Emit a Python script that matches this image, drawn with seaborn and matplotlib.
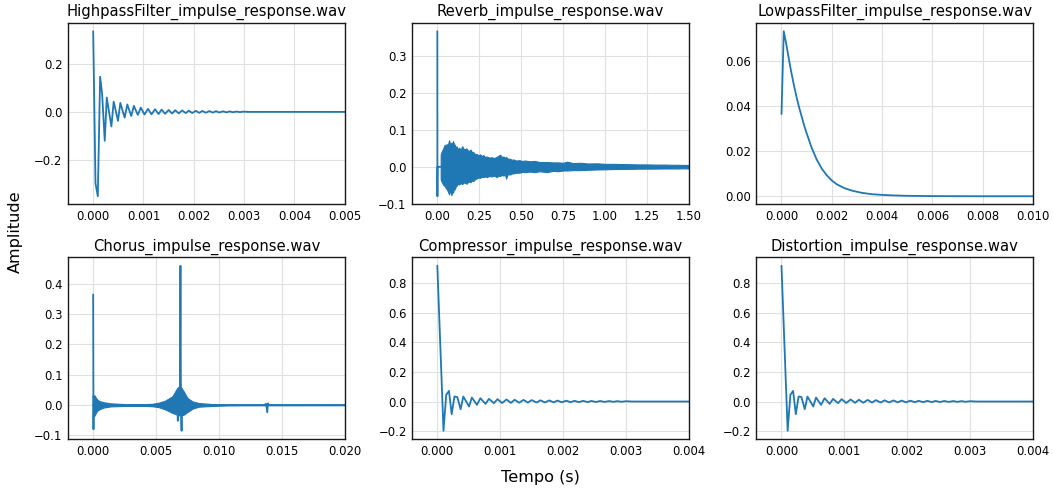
import matplotlib
matplotlib.use("Agg")
import matplotlib.pyplot as plt
from matplotlib.ticker import MultipleLocator
import seaborn as sns
import pandas as pd

# ---------------- data ----------------
titles = ["HighpassFilter_impulse_response.wav", "Reverb_impulse_response.wav",
          "LowpassFilter_impulse_response.wav", "Chorus_impulse_response.wav",
          "Compressor_impulse_response.wav", "Distortion_impulse_response.wav"]
x_max = [0.005, 1.5, 0.01, 0.02, 0.004, 0.004]
x_step = [0.001, 0.25, 0.002, 0.005, 0.001, 0.001]
y_step = [0.2, 0.1, 0.02, 0.1, 0.2, 0.2]

hp_t = [0, 0.000046, 0.000092, 0.000138, 0.000178, 0.00023, 0.00027, 0.000362, 0.000408,
        0.000493, 0.00054, 0.000625, 0.000678, 0.000757, 0.000809, 0.000888, 0.000947,
        0.00102, 0.00109, 0.00116, 0.00123, 0.0013, 0.00136, 0.00143, 0.0015, 0.00157,
        0.00163, 0.0017, 0.00177, 0.00184, 0.0019, 0.00197, 0.00204, 0.00211, 0.00217,
        0.00224, 0.00231, 0.00238, 0.00244, 0.00251, 0.00258, 0.00265, 0.00271, 0.00278,
        0.00285, 0.00292, 0.00298, 0.0031, 0.005]
hp_v = [0.3375, -0.299, -0.353, 0.147, 0.074, -0.121, 0.060, -0.061, 0.043,
        -0.0375, 0.0375, -0.024, 0.031, -0.017, 0.025, -0.0125, 0.018,
        -0.011, 0.0125, -0.010, 0.011, -0.009, 0.0095, -0.008, 0.008, -0.007,
        0.007, -0.006, 0.006, -0.005, 0.005, -0.0045, 0.0045, -0.004, 0.004,
        -0.0035, 0.0035, -0.003, 0.003, -0.0025, 0.0025, -0.002, 0.002, -0.0015,
        0.0015, -0.001, 0.001, 0, 0]

rev_spike_t = [0, 0.0005, 0.001, 0.02]
rev_spike_v = [0.3685, -0.08, 0.0, 0.0]
rev_t = [0.02, 0.025, 0.03, 0.037, 0.044, 0.05, 0.055, 0.062, 0.07, 0.077, 0.084, 0.089,
         0.094, 0.099, 0.104, 0.109, 0.114, 0.122, 0.13, 0.139, 0.148, 0.16, 0.174, 0.186,
         0.198, 0.206, 0.215, 0.225, 0.234, 0.245, 0.255, 0.265, 0.274, 0.284, 0.294, 0.31,
         0.324, 0.34, 0.354, 0.364, 0.374, 0.385, 0.395, 0.403, 0.41, 0.42, 0.434, 0.444,
         0.454, 0.47, 0.49, 0.505, 0.524, 0.55, 0.58, 0.61, 0.654, 0.69, 0.72, 0.75, 0.774,
         0.81, 0.85, 0.9, 0.954, 1.0, 1.05, 1.1, 1.154, 1.2, 1.25, 1.3, 1.354, 1.4, 1.43,
         1.47, 1.5]
rev_up = [0.033, 0.040, 0.045, 0.052, 0.060, 0.055, 0.062, 0.058, 0.072, 0.060, 0.066, 0.058,
          0.070, 0.062, 0.060, 0.050, 0.056, 0.048, 0.052, 0.046, 0.056, 0.047, 0.050, 0.042,
          0.047, 0.040, 0.040, 0.034, 0.035, 0.031, 0.034, 0.029, 0.032, 0.027, 0.028, 0.025,
          0.026, 0.024, 0.027, 0.030, 0.033, 0.027, 0.028, 0.024, 0.027, 0.022, 0.022, 0.019,
          0.020, 0.017, 0.018, 0.016, 0.017, 0.015, 0.016, 0.013, 0.013, 0.012, 0.012, 0.011,
          0.014, 0.010, 0.011, 0.009, 0.0095, 0.008, 0.008, 0.0075, 0.007, 0.0065, 0.0065,
          0.006, 0.006, 0.0055, 0.0055, 0.005, 0.005]
rev_lo = [-0.034, -0.040, -0.045, -0.050, -0.052, -0.058, -0.060, -0.066, -0.075, -0.064,
          -0.077, -0.068, -0.070, -0.060, -0.061, -0.054, -0.052, -0.046, -0.048, -0.044,
          -0.047, -0.042, -0.046, -0.040, -0.042, -0.037, -0.039, -0.033, -0.032, -0.029,
          -0.030, -0.027, -0.028, -0.026, -0.028, -0.025, -0.026, -0.024, -0.028, -0.024,
          -0.025, -0.022, -0.024, -0.020, -0.032, -0.020, -0.021, -0.018, -0.018, -0.016,
          -0.016, -0.014, -0.0145, -0.013, -0.0145, -0.012, -0.0145, -0.011, -0.012, -0.010,
          -0.010, -0.009, -0.009, -0.008, -0.0072, -0.0068, -0.006, -0.0058, -0.0055, -0.005,
          -0.005, -0.0048, -0.0045, -0.0045, -0.0045, -0.0042, -0.0045]

lp_t = [0, 0.00009, 0.0002, 0.0003, 0.0004, 0.0005, 0.0006, 0.0007, 0.0008, 0.0009, 0.001,
        0.0012, 0.0014, 0.0016, 0.0018, 0.002, 0.0022, 0.0025, 0.0028, 0.0032, 0.0036, 0.004,
        0.0045, 0.005, 0.006, 0.007, 0.008, 0.01]
lp_v = [0.0365, 0.0733, 0.067, 0.0605, 0.0545, 0.049, 0.044, 0.0395, 0.0355, 0.0315, 0.028,
        0.0215, 0.0163, 0.0123, 0.0093, 0.0070, 0.0053, 0.0036, 0.0025, 0.0015, 0.0009, 0.0006,
        0.00035, 0.0002, 0.00006, 0.00002, 0.0, 0.0]

ch_base_t = [0, 0.02]
ch_base_v = [0, 0]
ch_spike1_t = [0, 0.000023, 0.000045, 0.00007]
ch_spike1_v = [0.365, -0.08, 0.03, 0.0]
ch_spike2_t = [0.0067, 0.00673, 0.00676, 0.0069, 0.00694, 0.00698, 0.00703, 0.00706]
ch_spike2_v = [0.02, -0.052, 0.03, 0.05, 0.46, 0.0, -0.085, 0.02]
ch_dip_t = [0.0136, 0.01375, 0.01384, 0.0139, 0.01395, 0.0141]
ch_dip_v = [0, 0.004, -0.024, 0.0055, 0.0, 0]
ch_t = [0.00005, 0.0001, 0.0002, 0.00032, 0.0005, 0.00086, 0.0014, 0.0025, 0.0041, 0.0047,
        0.0052, 0.0057, 0.0063, 0.00668, 0.0069, 0.0072, 0.0075, 0.0079, 0.0084, 0.0095,
        0.0106, 0.012, 0.02]
ch_up = [0.03, 0.032, 0.025, 0.018, 0.013, 0.009, 0.0055, 0.003, 0.003, 0.004, 0.0077, 0.014,
         0.029, 0.056, 0.064, 0.045, 0.023, 0.012, 0.0066, 0.003, 0.0015, 0.001, 0.0008]
ch_lo = [-0.037, -0.035, -0.027, -0.019, -0.014, -0.008, -0.0045, -0.003, -0.003, -0.004,
         -0.007, -0.014, -0.026, -0.032, -0.035, -0.032, -0.023, -0.012, -0.0055, -0.003,
         -0.0015, -0.001, -0.0008]

comp_t = [0, 0.000098, 0.000141, 0.000185, 0.000228, 0.000272, 0.000318, 0.00037, 0.000413,
          0.000505, 0.000549, 0.00063, 0.000685, 0.000766, 0.00082, 0.0009, 0.000957,
          0.00103, 0.0011, 0.00117, 0.00123, 0.0013, 0.00137, 0.00144, 0.0015, 0.00158,
          0.00164, 0.00171, 0.00178, 0.00185, 0.00191, 0.00198, 0.00205, 0.00212, 0.00218,
          0.00225, 0.00232, 0.00239, 0.00245, 0.00252, 0.00259, 0.00266, 0.00273, 0.0028,
          0.00286, 0.00293, 0.003, 0.0031, 0.004]
comp_v = [0.92, -0.198, 0.045, 0.072, -0.086, 0.034, 0.030, -0.052, 0.034,
          -0.034, 0.027, -0.0225, 0.0225, -0.016, 0.018, -0.011, 0.016,
          -0.010, 0.014, -0.009, 0.012, -0.008, 0.011, -0.007, 0.0095, -0.0065,
          0.0085, -0.006, 0.0075, -0.0055, 0.0065, -0.005, 0.0058, -0.0045, 0.005,
          -0.004, 0.0045, -0.0035, 0.004, -0.003, 0.0035, -0.0025, 0.003, -0.002,
          0.0025, -0.0015, 0.002, 0, 0]
dist_t = [0, 0.000098, 0.000141, 0.000185, 0.000228, 0.000272, 0.000318, 0.00037, 0.000413,
          0.000505, 0.000549, 0.00063, 0.000685, 0.000766, 0.00082, 0.0009, 0.000957,
          0.00103, 0.0011, 0.00117, 0.00123, 0.0013, 0.00137, 0.00144, 0.0015, 0.00158,
          0.00164, 0.00171, 0.00178, 0.00185, 0.00191, 0.00198, 0.00205, 0.00212, 0.00218,
          0.00225, 0.00232, 0.00239, 0.00245, 0.00252, 0.00259, 0.00266, 0.00273, 0.0028,
          0.00286, 0.00293, 0.003, 0.0031, 0.004]
dist_v = [0.92, -0.198, 0.045, 0.072, -0.086, 0.034, 0.030, -0.052, 0.034,
          -0.034, 0.027, -0.0225, 0.0225, -0.016, 0.018, -0.011, 0.016,
          -0.010, 0.014, -0.009, 0.012, -0.008, 0.011, -0.007, 0.0095, -0.0065,
          0.0085, -0.006, 0.0075, -0.0055, 0.0065, -0.005, 0.0058, -0.0045, 0.005,
          -0.004, 0.0045, -0.0035, 0.004, -0.003, 0.0035, -0.0025, 0.003, -0.002,
          0.0025, -0.0015, 0.002, 0, 0]

# ---------------- style ----------------
sns.set_theme(style="whitegrid")
plt.rcParams.update({
    "font.family": ["DejaVu Sans"],
    "text.color": "black",
    "axes.labelcolor": "black",
    "axes.edgecolor": "0.1",
    "axes.linewidth": 1.0,
    "grid.color": "0.88",
    "grid.linewidth": 0.8,
    "xtick.labelsize": 8.4,
    "ytick.labelsize": 8.4,
    "xtick.color": "black",
    "ytick.color": "black",
    "xtick.major.size": 0,
    "ytick.major.size": 0,
    "xtick.major.pad": 4,
    "ytick.major.pad": 4,
})
COLOR = "#1f77b4"
LW = 1.3

fig, axes = plt.subplots(2, 3, figsize=(10.53, 4.88), dpi=100)
fig.subplots_adjust(left=0.0646, right=0.981, top=0.9529, bottom=0.1004,
                    wspace=0.244, hspace=0.292)
axes = axes.ravel()


def line(ax, t, v):
    df = pd.DataFrame({"t": t, "v": v})
    sns.lineplot(data=df, x="t", y="v", ax=ax, color=COLOR, lw=LW,
                 estimator=None, sort=False)


def band(ax, t, up, lo):
    ax.fill_between(t, lo, up, color=COLOR, lw=0.8, edgecolor=COLOR)


line(axes[0], hp_t, hp_v)
line(axes[1], rev_spike_t, rev_spike_v)
band(axes[1], rev_t, rev_up, rev_lo)
line(axes[2], lp_t, lp_v)
line(axes[3], ch_base_t, ch_base_v)
band(axes[3], ch_t, ch_up, ch_lo)
line(axes[3], ch_spike1_t, ch_spike1_v)
line(axes[3], ch_spike2_t, ch_spike2_v)
line(axes[3], ch_dip_t, ch_dip_v)
line(axes[4], comp_t, comp_v)
line(axes[5], dist_t, dist_v)

for i, ax in enumerate(axes):
    ax.set_title(titles[i], fontsize=10.6, pad=5, color="black")
    ax.set_xlim(-0.1 * x_max[i], x_max[i])
    ax.xaxis.set_major_locator(MultipleLocator(x_step[i]))
    ax.yaxis.set_major_locator(MultipleLocator(y_step[i]))
    ax.set_xlabel("")
    ax.set_ylabel("")
    for s in ax.spines.values():
        s.set_visible(True)
        s.set_color("0.1")

fig.text(0.513, 0.022, "Tempo (s)", ha="center", va="center", fontsize=11.6)
fig.text(0.0145, 0.526, "Amplitude", ha="center", va="center", rotation=90, fontsize=11.6)

fig.savefig("out.png", dpi=100)
